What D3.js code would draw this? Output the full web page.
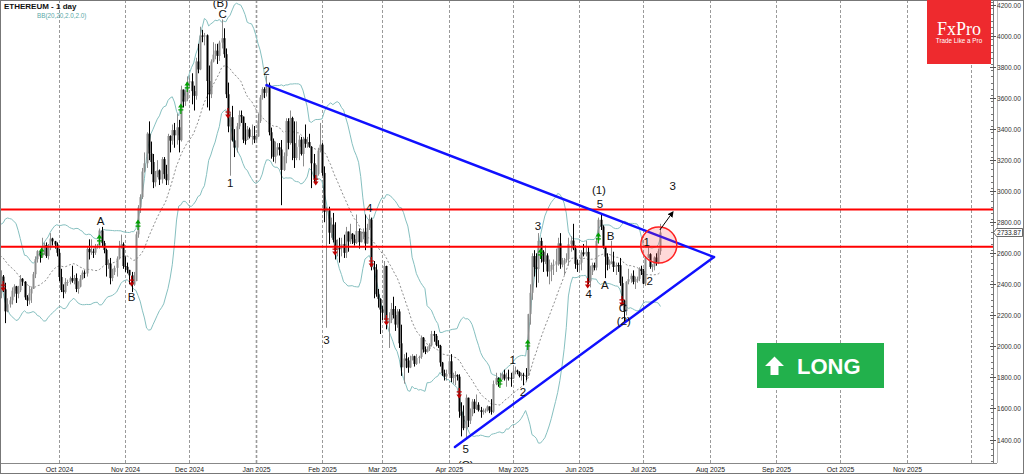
<!DOCTYPE html>
<html><head><meta charset="utf-8">
<script src="https://cdn.jsdelivr.net/npm/d3@7"></script>
<style>body{margin:0;background:#fff}svg{display:block}</style>
</head><body><svg id="c" width="1024" height="474"></svg>
<script>
// ---------------- DATA ----------------
const title = "ETHEREUM - 1 day";
const indicatorLabel = "BB(20,20,2.0,2.0)";
const firstDay = [2024, 7, 14]; // 14 Aug 2024, daily bars (24/7 market)
const firstOpen = 2703;
const close = [
 2662,2570,2594,2615,2612,2636,2572,2631,2623,2762,2768,2746,2682,2458,2528,2529,2525,2513, // Aug 14-31
 2426,2538,2424,2450,2368,2226,2271,2297,2359,2387,2340,2362,2436,2417,2316,2296,2341,2370,2465,2562,2614,2580,2647,2653,2582,2633,2695,2677,2657,2603, // Sep
 2447,2363,2350,2414,2415,2440,2423,2441,2370,2385,2436,2475,2470,2628,2607,2611,2604,2642,2648,2747,2666,2621,2525,2534,2440,2479,2506,2566,2639,2658,2518, // Oct
 2513,2493,2458,2398,2421,2722,2895,2962,3127,3180,3371,3243,3188,3058,3108,3134,3075,3207,3110,3071,3356,3326,3394,3360,3412,3329,3655,3578,3594,3704, // Nov
 3708,3645,3615,3836,3785,4003,3997,4005,3710,3625,3836,3880,3906,3872,3958,3986,3883,3625,3418,3477,3328,3281,3418,3491,3481,3332,3331,3398,3351,3356,3333, // Dec
 3353,3452,3604,3658,3634,3686,3380,3325,3222,3266,3283,3269,3137,3226,3452,3312,3472,3310,3214,3286,3332,3240,3337,3306,3317,3286,3180,3080,3110,3262,3300, // Jan
 3118,2867,2876,2733,2785,2687,2620,2633,2631,2660,2603,2740,2676,2726,2691,2667,2744,2672,2716,2739,2663,2764,2818,2511,2495,2336,2306,2237, // Feb
 2217,2518,2149,2170,2241,2202,2141,2225,2020,1865,1922,1908,1864,1911,1937,1887,1925,1932,2056,1980,1965,1983,2007,2080,2068,2010,2003,1896,1827,1806,1822, // Mar
 1904,1796,1816,1816,1805,1580,1553,1473,1669,1522,1566,1644,1597,1624,1589,1577,1583,1588,1613,1587,1579,1757,1796,1769,1786,1819,1793,1800,1798,1794, // Apr
 1838,1844,1834,1809,1817,1812,1811,2208,2345,2582,2511,2498,2680,2610,2546,2586,2483,2494,2524,2527,2549,2664,2529,2532,2555,2563,2658,2682,2631,2532,2528, // May
 2539,2606,2593,2609,2420,2481,2524,2508,2680,2816,2772,2643,2578,2526,2546,2547,2512,2524,2523,2408,2296,2227,2417,2433,2455,2416,2424,2435,2500,2487, // Jun
 2405,2572,2594,2512,2517,2573,2541,2613,2733.87 // Jul 1-9
];
const high = [
 2780,2680,2640,2630,2690,2650,2690,2650,2660,2790,2820,2790,2760,2700,2560,2600,2540,2530,
 2520,2560,2550,2490,2460,2410,2310,2320,2380,2400,2390,2390,2460,2440,2420,2330,2390,2380,2480,2580,2620,2620,2700,2670,2670,2660,2730,2700,2680,2670,
 2630,2500,2400,2440,2430,2450,2520,2460,2470,2420,2460,2490,2490,2640,2690,2690,2630,2660,2660,2760,2770,2680,2630,2560,2570,2500,2520,2580,2680,2720,2670,
 2580,2540,2490,2480,2480,2740,2910,2980,3150,3250,3380,3450,3320,3240,3130,3200,3140,3220,3220,3170,3370,3360,3430,3440,3500,3460,3680,3650,3650,3740,
 3730,3760,3680,3860,3950,4060,4040,4020,4010,3810,3850,3960,3950,3950,3970,4107,4050,3920,3700,3510,3550,3400,3440,3520,3520,3480,3440,3420,3410,3430,3420,
 3370,3500,3620,3670,3670,3745,3700,3410,3340,3320,3310,3310,3330,3250,3470,3470,3520,3480,3450,3450,3360,3350,3350,3430,3350,3370,3290,3240,3170,3280,3440,
 3310,3160,2900,2900,2830,2860,2800,2690,2700,2700,2720,2770,2740,2790,2730,2720,2850,2760,2740,2760,2850,2790,2850,2830,2550,2530,2370,2310,
 2260,2550,2520,2220,2280,2320,2260,2240,2240,2140,1950,1960,1930,1940,1950,1940,1950,1940,2070,2060,2000,2000,2020,2100,2100,2080,2040,2010,1900,1850,1850,
 1930,1950,1830,1840,1820,1820,1640,1620,1690,1670,1600,1660,1660,1690,1640,1610,1600,1600,1620,1610,1660,1780,1830,1800,1830,1830,1850,1830,1850,1830,
 1875,1870,1850,1840,1830,1830,1860,2210,2400,2600,2620,2600,2730,2700,2620,2650,2600,2560,2540,2560,2630,2700,2730,2570,2570,2600,2700,2710,2790,2650,2560,
 2540,2620,2660,2680,2640,2520,2540,2540,2700,2830,2850,2780,2640,2600,2560,2680,2610,2540,2540,2570,2450,2300,2420,2500,2470,2490,2450,2450,2510,2520,
 2500,2580,2640,2600,2530,2580,2600,2630,2790
];
const low = [
 2640,2520,2550,2590,2600,2560,2560,2540,2590,2610,2740,2740,2670,2420,2400,2510,2430,2500,
 2400,2420,2410,2310,2350,2150,2220,2250,2270,2320,2280,2310,2350,2390,2300,2260,2270,2280,2370,2440,2540,2540,2570,2590,2570,2560,2620,2650,2630,2580,
 2420,2350,2310,2340,2390,2400,2410,2400,2350,2340,2380,2430,2440,2450,2560,2590,2570,2590,2630,2630,2640,2600,2450,2500,2400,2420,2460,2450,2560,2630,2500,
 2480,2470,2400,2350,2390,2420,2700,2860,2950,3120,3150,3200,3110,3020,3030,3090,3040,3050,3080,3040,3040,3250,3300,3280,3300,3250,3320,3540,3550,3580,
 3680,3560,3520,3590,3760,3780,3960,3940,3540,3520,3600,3830,3850,3820,3840,3920,3860,3600,3380,3100,3320,3220,3250,3400,3440,3310,3300,3330,3340,3300,3310,
 3320,3350,3440,3590,3600,3610,3360,3210,3190,3180,3230,3230,2910,3130,3180,3270,3300,3200,3150,3200,3200,3230,3160,3280,3280,3280,3020,3060,3050,3100,3250,
 3100,2800,2120,2660,2700,2670,2560,2580,2540,2580,2570,2570,2610,2660,2660,2650,2660,2630,2670,2690,2620,2660,2750,2490,2310,2320,2250,2080,
 2170,2170,2110,1990,2150,2180,2100,2120,1990,1810,1760,1860,1830,1860,1910,1870,1880,1890,1920,1960,1950,1960,1970,2000,2030,2000,1990,1870,1810,1780,1780,
 1810,1770,1760,1750,1780,1540,1420,1460,1400,1480,1500,1550,1570,1590,1580,1540,1560,1570,1580,1570,1560,1570,1750,1740,1750,1790,1780,1740,1780,1740,
 1790,1820,1820,1800,1780,1750,1780,1810,2140,2300,2450,2380,2410,2540,2480,2530,2450,2400,2420,2460,2480,2520,2500,2510,2460,2540,2520,2610,2620,2500,2480,
 2480,2490,2580,2580,2400,2380,2460,2490,2490,2660,2750,2630,2440,2490,2500,2530,2480,2460,2480,2390,2280,2160,2200,2400,2410,2400,2370,2410,2420,2460,
 2400,2390,2570,2500,2480,2490,2520,2530,2590
];
const priceTicks = [1400,1600,1800,2000,2200,2400,2600,2800,3000,3200,3400,3600,3800,4000,4200];
const monthTicks = ["2024-10-01","2024-11-01","2024-12-01","2025-01-01","2025-02-01","2025-03-01","2025-04-01","2025-05-01","2025-06-01","2025-07-01","2025-08-01","2025-09-01","2025-10-01","2025-11-01","2025-12-01"];
const monthLabels = ["Oct 2024","Nov 2024","Dec 2024","Jan 2025","Feb 2025","Mar 2025","Apr 2025","May 2025","Jun 2025","Jul 2025","Aug 2025","Sep 2025","Oct 2025","Nov 2025",""];
const levels = [2882, 2642];
const trendUpper = [["2025-01-06", 3684], ["2025-08-03", 2576]];
const trendLower = [["2025-04-04", 1352], ["2025-08-03", 2576]];
const waveLabels = [
 ["(B)","2024-12-15T12:00Z",4215],["C","2024-12-16T12:00Z",4142],["2","2025-01-06",3775],["1","2024-12-20",3053],
 ["A","2024-10-20T12:00Z",2808],["B","2024-11-04",2318],["3","2025-02-03",2041],["4","2025-02-23",2892],
 ["5","2025-04-09",1339],["(C)","2025-04-09",1236],["1","2025-05-01",1912],["2","2025-05-05T18:00Z",1706],
 ["3","2025-05-12T18:00Z",2776],["4","2025-06-05T12:00Z",2338],["5","2025-06-10T18:00Z",2918],["(1)","2025-06-10T06:00Z",3008],
 ["A","2025-06-13",2396],["B","2025-06-15T18:00Z",2711],["C","2025-06-21T10:00Z",2247],["(2)","2025-06-21T22:00Z",2164],
 ["1","2025-07-02T14:00Z",2673],["2","2025-07-04",2421],["3","2025-07-14T18:00Z",3034]
];
const upSignals = [["2024-09-23",2602],["2024-10-20",2686],["2024-11-07",2782],["2024-11-27",3530],["2024-11-30",3672],["2025-04-25",1764],["2025-05-08",2009],["2025-05-14",2596],["2025-06-10",2699]];
const downSignals = [["2024-09-05",2389],["2024-11-04",2421],["2024-12-19",3504],["2025-01-29",3072],["2025-02-07",2621],["2025-02-24",2544],["2025-03-03",2170],["2025-04-06",1700],["2025-06-05",2409],["2025-06-21",2293]];
const targetCircle = ["2025-07-08T05:00Z", 2653];
const targetArrow = [["2025-07-08T17:00Z", 2750], ["2025-07-14T19:00Z", 2866]];
const xDomain = ["2024-09-03T13:00Z", "2025-12-11T07:00Z"];
const yDomain = [1400, 4200];

// ---------------- CHART ----------------
const W = 1024, H = 474, PR = 993, PB = 463;
const svg = d3.select("#c");
const x = d3.scaleUtc().domain(xDomain.map(s => new Date(s))).range([0, PR]);
const y = d3.scaleLinear().domain(yDomain).range([439.5, 5]);
const pd = s => new Date(s.length === 10 ? s + "T00:00Z" : s);

svg.append("rect").attr("width", W).attr("height", H).attr("fill", "#fff");
const defs = svg.append("defs");
defs.append("clipPath").attr("id", "plot").append("rect").attr("x", 0).attr("y", 0).attr("width", PR).attr("height", PB);
defs.append("marker").attr("id", "ah").attr("viewBox", "0 0 10 10").attr("refX", 8).attr("refY", 5)
  .attr("markerWidth", 6).attr("markerHeight", 6).attr("orient", "auto")
  .append("path").attr("d", "M0,0 L10,5 L0,10 z").attr("fill", "#000");

// month grid
const grid = svg.append("g");
monthTicks.forEach((m, i) => {
  const xx = Math.round(x(pd(m))) + 0.5;
  grid.append("line").attr("x1", xx).attr("x2", xx).attr("y1", 0).attr("y2", PB + 1)
    .attr("stroke", "#9a9a9a").attr("stroke-width", m.endsWith("01-01") ? 1.6 : 1).attr("stroke-dasharray", "3,2");
  if (monthLabels[i]) grid.append("text").attr("x", xx).attr("y", 472).attr("text-anchor", "middle")
    .attr("font-family", "Liberation Sans, Arial, sans-serif").attr("font-size", 6.8).attr("fill", "#222").text(monthLabels[i]);
});

const plot = svg.append("g").attr("clip-path", "url(#plot)");

// candles
const candles = close.map((c, i) => {
  const d = new Date(Date.UTC(firstDay[0], firstDay[1], firstDay[2] + i));
  const o = i ? close[i - 1] : firstOpen;
  return { d, o, c, h: Math.max(high[i], o, c), l: Math.min(low[i], o, c) };
});

// Bollinger bands (20, 2.0)
const bb = [];
for (let i = 19; i < close.length; i++) {
  const s = close.slice(i - 19, i + 1), m = d3.mean(s);
  const sd = Math.sqrt(d3.mean(s, v => (v - m) * (v - m)));
  bb.push({ d: candles[i].d, m, u: m + 2 * sd, l: m - 2 * sd });
}
const ln = k => d3.line().x(p => x(p.d)).y(p => y(p[k]));
plot.append("path").datum(bb).attr("d", ln("u")).attr("fill", "none").attr("stroke", "#86c0c0").attr("stroke-width", 1);
plot.append("path").datum(bb).attr("d", ln("l")).attr("fill", "none").attr("stroke", "#86c0c0").attr("stroke-width", 1);
plot.append("path").datum(bb).attr("d", ln("m")).attr("fill", "none").attr("stroke", "#707070").attr("stroke-width", 0.8).attr("stroke-dasharray", "2,2");

const cg = plot.append("g");
candles.forEach(k => {
  const cx = Math.round(x(k.d));
  const bull = k.c >= k.o;
  const col = bull ? "#8c8c8c" : "#000";
  cg.append("line").attr("x1", cx + 0.5).attr("x2", cx + 0.5).attr("y1", y(k.h)).attr("y2", y(k.l)).attr("stroke", col).attr("stroke-width", 1);
  const t = y(Math.max(k.o, k.c)), b = y(Math.min(k.o, k.c));
  cg.append("rect").attr("x", cx - 0.5).attr("width", 2).attr("y", t).attr("height", Math.max(1, b - t)).attr("fill", col);
});

// signal arrows
upSignals.forEach(([d, p]) => {
  const cx = x(pd(d)), cy = y(p);
  plot.append("path").attr("d", `M${cx},${cy+5}V${cy-3}M${cx-2.5},${cy+1}H${cx+2.5}`).attr("stroke", "#00a000").attr("stroke-width", 1.2).attr("fill", "none");
  plot.append("path").attr("d", `M${cx-2.8},${cy-1.5}L${cx},${cy-5.5}L${cx+2.8},${cy-1.5}z`).attr("fill", "#00a000");
});
downSignals.forEach(([d, p]) => {
  const cx = x(pd(d)), cy = y(p);
  plot.append("path").attr("d", `M${cx},${cy-5}V${cy+3}M${cx-2.5},${cy-1}H${cx+2.5}`).attr("stroke", "#c00000").attr("stroke-width", 1.2).attr("fill", "none");
  plot.append("path").attr("d", `M${cx-2.8},${cy+1.5}L${cx},${cy+5.5}L${cx+2.8},${cy+1.5}z`).attr("fill", "#c00000");
});

// horizontal levels
levels.forEach(v => plot.append("line").attr("x1", 0).attr("x2", PR).attr("y1", y(v)).attr("y2", y(v)).attr("stroke", "#ff0000").attr("stroke-width", 2));

// triangle lines
[trendUpper, trendLower].forEach(t => plot.append("line")
  .attr("x1", x(pd(t[0][0]))).attr("y1", y(t[0][1])).attr("x2", x(pd(t[1][0]))).attr("y2", y(t[1][1]))
  .attr("stroke", "#1010ff").attr("stroke-width", 2.4).attr("stroke-linecap", "round"));

// target circle and arrow
plot.append("circle").attr("cx", x(pd(targetCircle[0]))).attr("cy", y(targetCircle[1])).attr("r", 18)
  .attr("fill", "rgba(255,60,60,0.2)").attr("stroke", "#ff2020").attr("stroke-width", 1.5);
plot.append("line").attr("x1", x(pd(targetArrow[0][0]))).attr("y1", y(targetArrow[0][1]))
  .attr("x2", x(pd(targetArrow[1][0]))).attr("y2", y(targetArrow[1][1]))
  .attr("stroke", "#000").attr("stroke-width", 1).attr("marker-end", "url(#ah)");

// wave labels
waveLabels.forEach(([t, d, p]) => plot.append("text").attr("x", x(pd(d))).attr("y", y(p)).attr("text-anchor", "middle")
  .attr("dominant-baseline", "central").attr("font-family", "Liberation Sans, Arial, sans-serif").attr("font-size", 11.5).attr("fill", "#111").text(t));

// frame / axes
svg.append("line").attr("x1", PR + 0.5).attr("x2", PR + 0.5).attr("y1", 0).attr("y2", PB).attr("stroke", "#777");
svg.append("line").attr("x1", 0).attr("x2", 997).attr("y1", PB + 0.5).attr("y2", PB + 0.5).attr("stroke", "#888");
svg.append("line").attr("x1", 997.5).attr("x2", 997.5).attr("y1", 0).attr("y2", PB).attr("stroke", "#bbb");
svg.append("rect").attr("x", 0.5).attr("y", 0.5).attr("width", W - 1).attr("height", H - 1).attr("fill", "none").attr("stroke", "#777");

// y axis ticks
const ax = svg.append("g");
for (let v = 1260; v <= 4240; v += 40) {
  const yy = Math.round(y(v)) + 0.5;
  if (yy < 1 || yy > PB) continue;
  ax.append("line").attr("x1", PR - 2).attr("x2", PR).attr("y1", yy).attr("y2", yy).attr("stroke", "#777");
}
priceTicks.forEach(v => {
  const yy = Math.round(y(v)) + 0.5;
  ax.append("line").attr("x1", PR - 3).attr("x2", PR + 3).attr("y1", yy).attr("y2", yy).attr("stroke", "#555");
  ax.append("text").attr("x", 997).attr("y", yy).attr("dominant-baseline", "central").attr("font-family", "Liberation Sans, Arial, sans-serif")
    .attr("font-size", 6.6).attr("fill", "#333").text(v.toFixed(2));
});
// last price tag
const lp = close[close.length - 1], ly = y(lp);
ax.append("path").attr("d", `M${PR+0.5},${ly} L${PR+3.5},${ly-4} H1022.5 V${ly+4} H${PR+3.5} z`).attr("fill", "#fff").attr("stroke", "#444").attr("stroke-width", 0.8);
ax.append("text").attr("x", 997).attr("y", ly).attr("dominant-baseline", "central").attr("font-family", "Liberation Sans, Arial, sans-serif")
  .attr("font-size", 6.6).attr("fill", "#222").text(lp.toFixed(2));

// title
svg.append("text").attr("x", 4).attr("y", 9).attr("font-family", "Liberation Sans, Arial, sans-serif").attr("font-size", 8).attr("font-weight", "bold").attr("fill", "#111").text(title);
svg.append("text").attr("x", 37).attr("y", 18).attr("font-family", "Liberation Sans, Arial, sans-serif").attr("font-size", 6.3).attr("fill", "#5aa8a8").text(indicatorLabel);

// FxPro logo
const lg = svg.append("g");
lg.append("rect").attr("x", 927).attr("y", 0).attr("width", 64).attr("height", 64).attr("fill", "#ee2a2e");
lg.append("text").attr("x", 959).attr("y", 35).attr("text-anchor", "middle").attr("font-family", "Liberation Serif, Times New Roman, serif").attr("font-size", 18).attr("fill", "#fff").text("FxPro");
lg.append("text").attr("x", 959).attr("y", 43).attr("text-anchor", "middle").attr("font-family", "Liberation Sans, Arial, sans-serif").attr("font-size", 6.3).attr("fill", "#fff").text("Trade Like a Pro");

// LONG badge
const bg = svg.append("g");
bg.append("rect").attr("x", 757).attr("y", 343).attr("width", 127).attr("height", 45).attr("fill", "#22b14c");
bg.append("path").attr("d", "M765,366 L774.5,356.5 L784,366 L778.5,366 L778.5,375 L770.5,375 L770.5,366 z").attr("fill", "#fff");
bg.append("text").attr("x", 797).attr("y", 374).attr("font-family", "Liberation Sans, Arial, sans-serif").attr("font-size", 22).attr("font-weight", "bold").attr("fill", "#fff").text("LONG");
</script></body></html>
